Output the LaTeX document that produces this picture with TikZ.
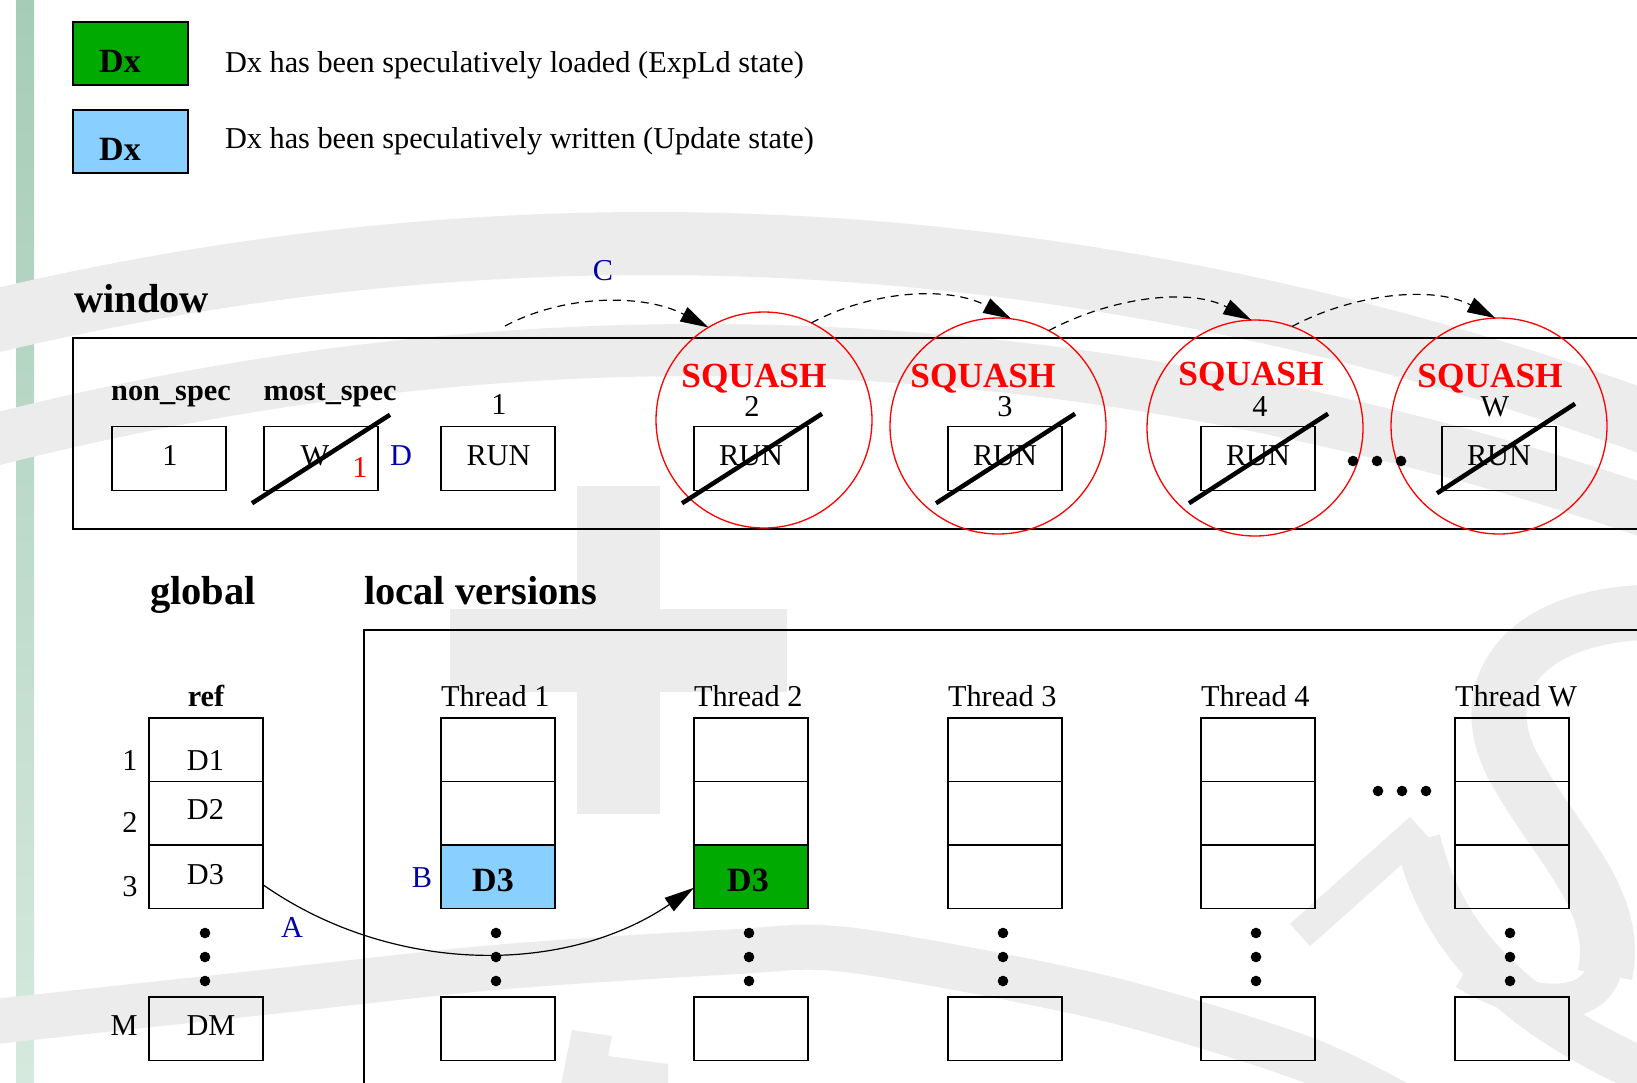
\documentclass[tikz,border=0pt]{standalone}
\usepackage{fontspec}
\setmainfont{Liberation Serif}
\usetikzlibrary{arrows.meta}

\definecolor{ldgreen}{RGB}{0,170,0}
\definecolor{upblue}{RGB}{137,207,255}
\definecolor{tagblue}{RGB}{0,0,170}
\definecolor{wmgray}{RGB}{236,236,236}
\definecolor{bartop}{RGB}{166,204,183}
\definecolor{barbot}{RGB}{214,233,222}

\begin{document}
\begin{tikzpicture}[x=1pt,y=-1pt,
  every node/.style={inner sep=0pt,outer sep=0pt},
  lab/.style={anchor=base,font=\fontsize{30.3}{36}\selectfont},
  labl/.style={lab,anchor=base west},
  labb/.style={anchor=base,font=\fontsize{30.3}{36}\selectfont\bfseries},
  hdg/.style={anchor=base west,font=\fontsize{40.5}{46}\selectfont\bfseries},
  bigb/.style={anchor=base,font=\fontsize{34}{40}\selectfont\bfseries},
  sqlab/.style={anchor=base,text=red,font=\fontsize{35.3}{42}\selectfont\bfseries},
  bluelab/.style={lab,text=tagblue},
  cellbox/.style={draw,line width=1.2pt,minimum width=114pt,minimum height=63.5pt},
  ringred/.style={circle,draw=red,line width=1.3pt,minimum size=216pt},
  slash/.style={line width=4.5pt},
  hoparrow/.style={line width=1.2pt,dash pattern=on 8pt off 6pt,-{Triangle[length=28pt,width=16pt]}},
  blob/.style={circle,fill=black,minimum size=10.6pt},
  framebox/.style={line width=1.5pt},
  wm/.style={draw=wmgray,line cap=butt}
]
% page and background
\useasboundingbox (0,0) rectangle (1637,1082);
\fill[white] (0,0) rectangle (1637,1082);
\clip (0,0) rectangle (1637,1082);
\shade[top color=bartop,bottom color=barbot] (16,0) rectangle (34,1082);

% faint watermark
\draw[wm,line width=63pt,domain=-20:1660,samples=60,smooth] plot (\x,{243.5+180*((\x-650)/1000)^2});
\draw[wm,line width=52pt,domain=-20:1660,samples=60,smooth] plot (\x,{350+180*((\x-700)/1000)^2});
\draw[wm,line width=45pt] plot[smooth] coordinates {(-10,1022) (267,992) (500,967) (730,952) (850,950) (1100,997) (1300,1057) (1400,1105)};
\fill[wmgray] (450,609) rectangle (787,692);
\fill[wmgray] (577,486) rectangle (660,814);
\draw[wm,line width=55pt] (1660,612) .. controls (1520,612) and (1470,690) .. (1515,770)
  .. controls (1560,850) and (1620,900) .. (1605,975);
\draw[wm,line width=35pt] (1605,965) .. controls (1598,1012) and (1530,1012) .. (1465,972);
\draw[wm,line width=45pt] (1418,840) .. controls (1440,930) and (1500,1010) .. (1660,1078);
\draw[wm,line width=30pt] (1300,935) -- (1420,828);
\fill[wmgray] (572,1030) -- (612,1036) -- (608,1056) -- (668,1064) -- (668,1090) -- (560,1090) -- cycle;

% legend
\node[cellbox,fill=ldgreen,minimum width=115pt,minimum height=63pt] (keyld) at (130.5,53.5) {};
\node[bigb] (keyldtag) at (120,72) {Dx};
\node[labl] (keyldnote) at (225,72) {Dx has been speculatively loaded (ExpLd state)};
\node[cellbox,fill=upblue,minimum width=115pt,minimum height=63pt] (keyup) at (130.5,141.5) {};
\node[bigb] (keyuptag) at (120,160) {Dx};
\node[labl] (keyupnote) at (225,148) {Dx has been speculatively written (Update state)};

% window
\node[hdg] (winhdg) at (74,312) {window};
\draw[framebox] (1660,338) -| (73,529) -- (1660,529);
\node[labb] (nslab) at (171,400) {non\_spec};
\node[labb] (mslab) at (330,400) {most\_spec};
\node[cellbox] (ns) at (169,458.5) {};
\node[lab] (nsval) at (170,465) {1};
\node[cellbox] (ms) at (321,458.5) {};
\node[lab] (msval) at (315,465) {W};
\node[lab,text=red] (msred) at (360,477) {1};
\draw[slash] ([xshift=-12pt,yshift=-13pt]ms.south west) -- ([xshift=12pt,yshift=12pt]ms.north east);
\node[bluelab] (tagD) at (401,465) {D};
\node[lab] (num1) at (499,414) {1};
\node[cellbox] (run1) at (498,458.5) {};
\node[lab] (run1txt) at (498.5,465) {RUN};

% squashed threads
\foreach \k/\cx/\sx/\sy/\rx/\ry/\nx in {2/751/754/387/764/420/752, 3/1005/983/387/998/426/1005, 4/1258/1251/385/1255/428/1260, W/1499/1490/387/1499/426/1495}{
  \node[cellbox] (run\k) at (\cx,458.5) {};
  \node[lab] (run\k txt) at (\cx,465) {RUN};
  \node[lab] (num\k) at (\nx,416) {\k};
  \node[sqlab] (sq\k txt) at (\sx,\sy) {SQUASH};
  \node[ringred] (sq\k) at (\rx,\ry) {};
}
\draw[slash] ([xshift=-12pt,yshift=-13pt]run2.south west) -- ([xshift=14pt,yshift=13pt]run2.north east);
\draw[slash] ([xshift=-12pt,yshift=-13pt]run3.south west) -- ([xshift=13pt,yshift=13pt]run3.north east);
\draw[slash] ([xshift=-12pt,yshift=-13pt]run4.south west) -- ([xshift=13pt,yshift=13pt]run4.north east);
\draw[slash] ([xshift=-5pt,yshift=-3pt]runW.south west) -- ([xshift=19pt,yshift=23pt]runW.north east);
\node[blob] (wd1) at (1353,461) {};
\node[blob] (wd2) at (1377,461) {};
\node[blob] (wd3) at (1401,461) {};

% squash propagation
\node[bluelab] (tagC) at (603,280) {C};
\coordinate (hop0) at (505,326);
\draw[hoparrow] (hop0) .. controls +(62,-33) and +(-62,-33) .. (sq2.121);
\draw[hoparrow] (sq2.64) .. controls +(62,-33) and +(-62,-33) .. (sq3.83);
\draw[hoparrow] (sq3.62) .. controls +(62,-33) and +(-62,-33) .. (sq4.92);
\draw[hoparrow] (sq4.70) .. controls +(62,-33) and +(-62,-33) .. (sqW.92);

% global and local versions
\node[hdg] (glhdg) at (150,604) {global};
\node[hdg] (lvhdg) at (364,604) {local versions};
\draw[framebox] (1660,630) -| (364,1100);

\node[labb] (reflab) at (206,706) {ref};
\node[cellbox] (r1) at (206,749.75) {};
\node[cellbox] (r2) at (206,813.25) {};
\node[cellbox] (r3) at (206,876.75) {};
\node[cellbox] (rM) at (206,1028.75) {};
\node[lab] (r1txt) at (205.5,770) {D1};
\node[lab] (r2txt) at (205.5,819.5) {D2};
\node[lab] (r3txt) at (205.5,884) {D3};
\node[lab] (rMtxt) at (211,1035) {DM};
\node[lab] (i1) at (130,770) {1};
\node[lab] (i2) at (130,832) {2};
\node[lab] (i3) at (130,896) {3};
\node[lab] (iM) at (124,1035) {M};
\node[blob] (rd1) at (205,933) {};
\node[blob] (rd2) at (205,957) {};
\node[blob] (rd3) at (205,981) {};

\foreach \n/\l/\c in {1/441/upblue, 2/694/ldgreen, 3/948/none, 4/1201/none, W/1455/none}{
  \node[labl] (t\n lab) at (\l,706) {Thread \n};
  \node[cellbox] (t\n r1) at (\l+57,749.75) {};
  \node[cellbox] (t\n r2) at (\l+57,813.25) {};
  \node[cellbox,fill=\c] (t\n r3) at (\l+57,876.75) {};
  \node[cellbox] (t\n rM) at (\l+57,1028.75) {};
  \node[blob] (t\n d1) at (\l+55,933) {};
  \node[blob] (t\n d2) at (\l+55,957) {};
  \node[blob] (t\n d3) at (\l+55,981) {};
}
\node[bigb] (t1val) at (493,891) {D3};
\node[bigb] (t2val) at (748,891) {D3};
\node[bluelab] (tagB) at (422,887) {B};
\node[bluelab] (tagA) at (292,937) {A};
\node[blob] (hd1) at (1378,791) {};
\node[blob] (hd2) at (1402,791) {};
\node[blob] (hd3) at (1426,791) {};

% global D3 read into thread 2
\draw[line width=1.2pt,-{Triangle[length=30pt,width=16pt]}] ([yshift=-8pt]r3.east) .. controls +(127,89) and +(-131,89) .. ([yshift=-11pt]t2r3.west);
\end{tikzpicture}
\end{document}
